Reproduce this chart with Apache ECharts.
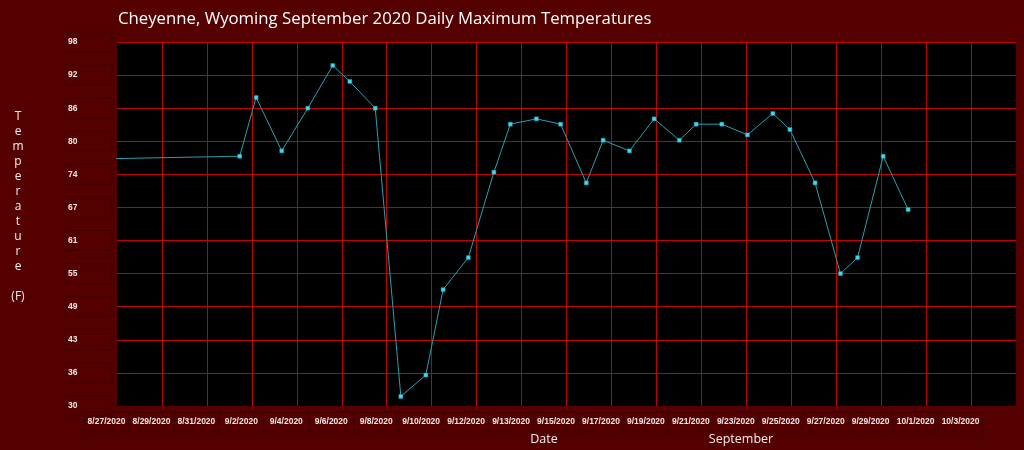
<!DOCTYPE html>
<html>
<head>
<meta charset="utf-8">
<script src="https://cdn.jsdelivr.net/npm/echarts@6/dist/echarts.min.js"></script>
<style>
  html, body { margin: 0; padding: 0; background: #540000; }
  #chart { width: 1024px; height: 450px; }
</style>
</head>
<body>
<div id="chart"></div>
<script>
// ---- data ----
const titleText = 'Cheyenne, Wyoming September 2020 Daily Maximum Temperatures';
const xLabels = ['8/27/2020','8/29/2020','8/31/2020','9/2/2020','9/4/2020','9/6/2020','9/8/2020',
  '9/10/2020','9/12/2020','9/13/2020','9/15/2020','9/17/2020','9/19/2020','9/21/2020','9/23/2020',
  '9/25/2020','9/27/2020','9/29/2020','10/1/2020','10/3/2020'];
const yLabels = ['30','36','43','49','55','61','67','74','80','86','92','98'];
const dates = ['9/1/2020','9/2/2020','9/3/2020','9/4/2020','9/5/2020','9/6/2020','9/7/2020','9/8/2020',
  '9/9/2020','9/10/2020','9/11/2020','9/12/2020','9/13/2020','9/14/2020','9/15/2020','9/16/2020',
  '9/17/2020','9/18/2020','9/19/2020','9/20/2020','9/21/2020','9/22/2020','9/23/2020','9/24/2020',
  '9/25/2020','9/26/2020','9/27/2020','9/28/2020','9/29/2020','9/30/2020'];
// position of each day along the date axis (days after 8/27, as placed in the picture)
const dayPos = [5.46, 6.19, 7.33, 8.49, 9.60, 10.36, 11.49, 12.63, 13.74, 14.51, 15.63, 16.77,
  17.50, 18.66, 19.74, 20.88, 21.63, 22.80, 23.90, 25.02, 25.77, 26.91, 28.05, 29.18, 29.94,
  31.06, 32.19, 32.95, 34.09, 35.20];
const maxTemps = [77, 88, 78, 86, 94, 91, 86, 32, 36, 52, 58, 74, 83, 84, 83, 72, 80, 78, 84, 80,
  83, 83, 81, 85, 82, 72, 55, 58, 77, 67];
// preceding (off-chart) reading that the line enters from
const priorPos = [-7];
const priorTemps = [76];
const yMin = 30.2, yMax = 98.4;

// ---- build ----
const seriesData = [];
priorPos.forEach((p, i) => seriesData.push({ value: [p, priorTemps[i]], symbol: 'none' }));
dayPos.forEach((p, i) => seriesData.push({ value: [p, maxTemps[i]], name: dates[i] }));

const labelColor = '#f2e8e8';
const boxBorder = '#420000';
const gridColor = '#c40000';

const chart = echarts.init(document.getElementById('chart'), null, { renderer: 'canvas' });
chart.setOption({
  backgroundColor: '#540000',
  animation: false,
  title: {
    text: titleText,
    left: 113, top: 6,
    textStyle: { color: '#ffffff', fontSize: 16.75, fontWeight: 'normal', fontFamily: 'Open Sans' }
  },
  graphic: [
    { type: 'text', x: 18, y: 207,
      style: { text: 'T\ne\nm\np\ne\nr\na\nt\nu\nr\ne\n\n(F)', fill: '#f4eeee',
        font: '12px "Open Sans"', lineHeight: 15, align: 'center', verticalAlign: 'middle' } },
    { type: 'text', x: 544, y: 439,
      style: { text: 'Date', fill: '#f4eeee', font: '12.5px "Open Sans"', align: 'center', verticalAlign: 'middle' } },
    { type: 'text', x: 741, y: 439,
      style: { text: 'September', fill: '#f4eeee', font: '12.5px "Open Sans"', align: 'center', verticalAlign: 'middle' } }
  ],
  grid: [
    { left: 117, right: 8, top: 42, bottom: 44,
      show: true, backgroundColor: '#000000', borderWidth: 0 },
    // same size, shifted left: carries the date tick labels as placed in the reference
    { left: 106.5, right: 18.5, top: 42, bottom: 44, show: false }
  ],
  xAxis: [
    { type: 'value', gridIndex: 0, min: 0, max: 40, interval: 2,
      axisLine: { show: false }, axisTick: { show: false }, axisLabel: { show: false },
      splitLine: { show: true, showMinLine: false, showMaxLine: false,
        lineStyle: { color: gridColor, width: 1 } } },
    { type: 'value', gridIndex: 1, min: 0, max: 40, interval: 2,
      axisLine: { show: false }, axisTick: { show: false }, splitLine: { show: false },
      axisLabel: {
        margin: 6,
        showMinLabel: true,
        showMaxLabel: true,
        formatter: v => { const l = xLabels[Math.round(v / 2)]; return l ? '{b|' + l + '}' : ''; },
        rich: {
          b: { width: 44, height: 20, align: 'center', verticalAlign: 'middle',
            color: labelColor, fontSize: 8.5, fontWeight: 'bold', fontFamily: 'Liberation Sans',
            borderColor: boxBorder, borderWidth: 1 }
        }
      } }
  ],
  yAxis: [
    { type: 'value', gridIndex: 0, min: yMin, max: yMax, show: false, splitLine: { show: false } },
    { type: 'value', gridIndex: 0, min: 0, max: yLabels.length - 1, interval: 1, position: 'left',
      axisLine: { show: false }, axisTick: { show: false },
      splitLine: { show: true, showMinLine: false, showMaxLine: true,
        lineStyle: { color: gridColor, width: 1 } },
      axisLabel: {
        margin: 5,
        showMinLabel: true,
        showMaxLabel: true,
        formatter: v => '{b|' + (yLabels[Math.round(v)] || '') + '}',
        rich: {
          b: { width: 44, height: 20, align: 'left', verticalAlign: 'middle', padding: [0, 0, 0, 3],
            color: labelColor, fontSize: 8.5, fontWeight: 'bold', fontFamily: 'Liberation Sans',
            borderColor: boxBorder, borderWidth: 1 }
        }
      }
    },
    { type: 'value', gridIndex: 1, show: false }
  ],
  series: [{
    type: 'line',
    xAxisIndex: 0,
    yAxisIndex: 0,
    data: seriesData,
    clip: true,
    symbol: 'rect',
    symbolSize: 4,
    lineStyle: { color: '#2a9fae', width: 1 },
    itemStyle: { color: '#3cdcf0', borderColor: '#1f8fa0', borderWidth: 0.5 }
  }]
});
</script>
</body>
</html>
